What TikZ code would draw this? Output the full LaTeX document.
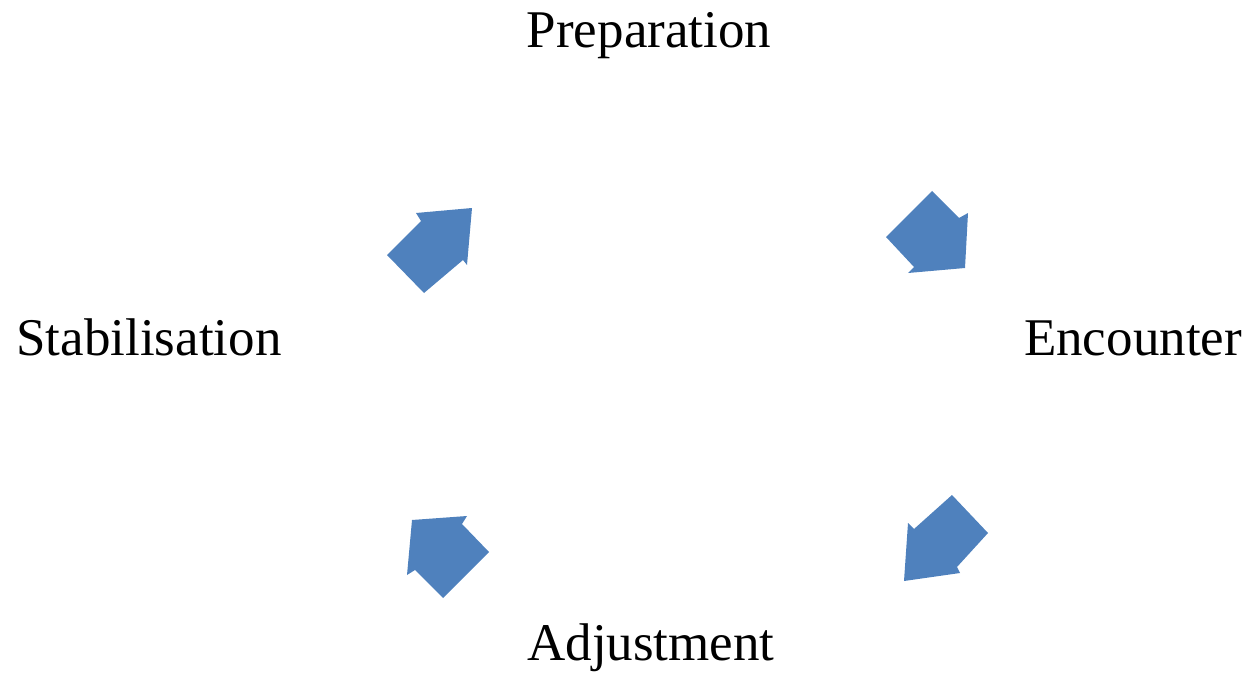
\documentclass[tikz,border=0pt]{standalone}
\usepackage{fontspec}
\setmainfont{Liberation Serif}
\definecolor{arrowblue}{HTML}{4F81BD}
\begin{document}
\begin{tikzpicture}[x=1pt,y=-1pt,
  label/.style={anchor=base,inner sep=0pt,font=\fontsize{53}{60}\selectfont},
  blockarrow/.style={fill=arrowblue,draw=none}]
\useasboundingbox (0,0) rectangle (1251,674);
\node[label] (prep) at (649,48) {Preparation};
\node[label] (enc) at (1133,355) {Encounter};
\node[label] (adj) at (651,660) {Adjustment};
\node[label] (stab) at (149,355) {Stabilisation};
% up-right arrow (Stabilisation -> Preparation)
\fill[blockarrow] (416,213) -- (472,208) -- (467,265) -- (463,260) -- (424,293) -- (387,255) -- (421,221) -- cycle;
% down-right arrow (Preparation -> Encounter)
\fill[blockarrow] (932,191) -- (959,218) -- (968,213) -- (965,268) -- (908,273) -- (914,267) -- (886,237) -- cycle;
% down-left arrow (Encounter -> Adjustment)
\fill[blockarrow] (952,495) -- (988,533) -- (957,567) -- (960,573) -- (904,581) -- (908,523) -- (914,529) -- cycle;
% up-left arrow (Adjustment -> Stabilisation)
\fill[blockarrow] (412,520) -- (467,516) -- (462,524) -- (489,552) -- (443,598) -- (415,570) -- (407,575) -- cycle;
\end{tikzpicture}
\end{document}
